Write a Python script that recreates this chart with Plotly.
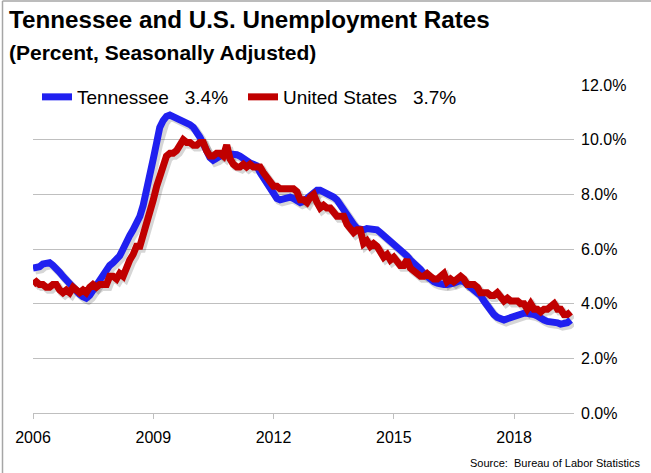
import pandas as pd
import plotly.graph_objects as go

# Monthly, Jan 2006 - Jun 2019 (percent, seasonally adjusted)
start_month = "2006-01-01"
tennessee = [
    5.3, 5.3, 5.35, 5.45, 5.5, 5.5, 5.4, 5.3, 5.15, 5.0, 4.85, 4.7,      # 2006
    4.6, 4.5, 4.35, 4.25, 4.2, 4.3, 4.5, 4.7, 4.9, 5.1, 5.3, 5.4,        # 2007
    5.5, 5.6, 5.75, 6.0, 6.3, 6.5, 6.7, 6.9, 7.2, 7.6, 8.1, 8.7,         # 2008
    9.3, 9.9, 10.45, 10.7, 10.85, 10.9, 10.85, 10.8, 10.75, 10.7, 10.65, 10.55,  # 2009
    10.45, 10.3, 10.1, 9.85, 9.6, 9.35, 9.25, 9.3, 9.4, 9.5, 9.5, 9.5,   # 2010
    9.5, 9.45, 9.4, 9.3, 9.2, 9.15, 9.1, 9.05, 8.8, 8.6, 8.4, 8.2,       # 2011
    8.0, 7.85, 7.8, 7.85, 7.9, 7.9, 7.85, 7.75, 7.7, 7.75, 7.85, 7.95,   # 2012
    8.05, 8.15, 8.15, 8.1, 8.05, 8.0, 7.9, 7.8, 7.6, 7.4, 7.2, 7.05,     # 2013
    6.9, 6.75, 6.7, 6.7, 6.75, 6.75, 6.7, 6.7, 6.6, 6.5, 6.4, 6.3,       # 2014
    6.2, 6.1, 6.0, 5.9, 5.75, 5.6, 5.5, 5.4, 5.25, 5.1, 5.0, 4.85,       # 2015
    4.8, 4.75, 4.7, 4.7, 4.7, 4.7, 4.75, 4.8, 4.85, 4.8, 4.7, 4.6,       # 2016
    4.5, 4.45, 4.3, 4.1, 3.9, 3.7, 3.6, 3.5, 3.45, 3.4, 3.45, 3.5,       # 2017
    3.55, 3.6, 3.65, 3.65, 3.65, 3.65, 3.6, 3.55, 3.45, 3.4, 3.35, 3.35, # 2018
    3.3, 3.3, 3.25, 3.25, 3.3, 3.4,                                      # 2019
]
united_states = [
    4.7, 4.8, 4.7, 4.7, 4.6, 4.6, 4.7, 4.7, 4.5, 4.4, 4.5, 4.4,
    4.6, 4.5, 4.4, 4.5, 4.4, 4.6, 4.7, 4.6, 4.7, 4.7, 4.7, 5.0,
    5.0, 4.9, 5.1, 5.0, 5.4, 5.6, 5.8, 6.1, 6.1, 6.5, 6.8, 7.3,
    7.8, 8.3, 8.7, 9.0, 9.4, 9.5, 9.5, 9.6, 9.8, 10.0, 9.9, 9.9,
    9.8, 9.8, 9.9, 9.9, 9.6, 9.4, 9.4, 9.5, 9.5, 9.4, 9.8, 9.3,
    9.1, 9.0, 9.0, 9.1, 9.0, 9.1, 9.0, 9.0, 9.0, 8.8, 8.6, 8.5,
    8.3, 8.3, 8.2, 8.2, 8.2, 8.2, 8.2, 8.1, 7.8, 7.8, 7.7, 7.9,
    8.0, 7.7, 7.5, 7.6, 7.5, 7.5, 7.3, 7.2, 7.2, 7.2, 6.9, 6.7,
    6.6, 6.7, 6.7, 6.2, 6.3, 6.1, 6.2, 6.1, 5.9, 5.7, 5.8, 5.6,
    5.7, 5.5, 5.4, 5.4, 5.6, 5.3, 5.2, 5.1, 5.0, 5.0, 5.1, 5.0,
    4.9, 4.9, 5.0, 5.1, 4.8, 4.9, 4.8, 4.9, 5.0, 4.9, 4.7, 4.7,
    4.7, 4.6, 4.4, 4.4, 4.4, 4.3, 4.3, 4.4, 4.2, 4.1, 4.2, 4.1,
    4.1, 4.1, 4.0, 4.0, 3.8, 4.0, 3.8, 3.8, 3.7, 3.8, 3.8, 3.9,
    4.0, 3.8, 3.8, 3.6, 3.6, 3.7,
]
series_names = ["Tennessee", "United States"]
latest_labels = ["3.4%", "3.7%"]
series_colors = ["#2020f0", "#c00000"]
title_text = "Tennessee and U.S. Unemployment Rates"
subtitle_text = "(Percent, Seasonally Adjusted)"
source_text = "Source:  Bureau of Labor Statistics"

months = pd.date_range(start_month, periods=len(tennessee), freq="MS")
FONT = "Liberation Sans, Arial, sans-serif"
NB = "\u00a0"

W, H = 651, 473
ML, MR, MT, MB = 33, 77, 85, 60
PW, PH = W - ML - MR, H - MT - MB


def px_x(x):
    return (x - ML) / PW


def px_y(y):
    return (H - MB - y) / PH


fig = go.Figure()
shadow_dx = pd.Timedelta(days=20)
for vals in (tennessee, united_states):
    fig.add_trace(go.Scatter(
        x=months + shadow_dx, y=[v - 0.09 for v in vals], mode="lines",
        line=dict(color="rgba(0,0,0,0.16)", width=8),
        showlegend=False, hoverinfo="skip"))
legend_ids = ["legend", "legend2"]
for name, lab, vals, col, lg in zip(series_names, latest_labels,
                                    (tennessee, united_states), series_colors, legend_ids):
    fig.add_trace(go.Scatter(
        x=months, y=vals, mode="lines",
        name=name + NB * 3 + lab, legend=lg,
        line=dict(color=col, width=7)))

legend_style = dict(orientation="h", xanchor="left", yanchor="middle",
                    bgcolor="rgba(0,0,0,0)", font=dict(size=19, family=FONT),
                    itemwidth=30)

fig.update_layout(
    width=W, height=H,
    margin=dict(l=ML, r=MR, t=MT, b=MB),
    paper_bgcolor="white", plot_bgcolor="white",
    font=dict(family=FONT, color="#000000"),
    showlegend=True,
    legend=dict(x=px_x(37), y=px_y(97), **legend_style),
    legend2=dict(x=px_x(243), y=px_y(97), **legend_style),
    xaxis=dict(type="date", range=["2006-01-01", "2019-07-01"],
               tick0="2006-01-01", dtick="M36", tickformat="%Y",
               showgrid=False, zeroline=False,
               showline=False, ticks="outside", ticklen=5, tickcolor="#bfbfbf",
               ticklabelstandoff=5,
               tickfont=dict(size=16, family=FONT, color="#000000")),
    yaxis=dict(range=[0, 12], dtick=2, side="right", tickformat=".1f", ticksuffix="%",
               showgrid=True, gridcolor="#bfbfbf", gridwidth=1,
               zeroline=True, zerolinecolor="#bfbfbf", zerolinewidth=1,
               showline=False, ticks="", ticklabelstandoff=6,
               tickfont=dict(size=16, family=FONT, color="#000000")),
    annotations=[
        dict(text="<b>" + title_text + "</b>", xref="paper", yref="paper",
             x=px_x(7), y=px_y(20), xanchor="left", yanchor="middle",
             showarrow=False, font=dict(size=24.2, family=FONT, color="#000000")),
        dict(text="<b>" + subtitle_text + "</b>", xref="paper", yref="paper",
             x=px_x(7), y=px_y(52), xanchor="left", yanchor="middle",
             showarrow=False, font=dict(size=21, family=FONT, color="#000000")),
        dict(text=source_text, xref="paper", yref="paper",
             x=px_x(642), y=px_y(463), xanchor="right", yanchor="middle",
             showarrow=False, font=dict(size=11, family=FONT, color="#000000")),
    ],
    shapes=[
        dict(type="line", xref="paper", yref="paper",
             x0=px_x(2.5), x1=px_x(2.5), y0=px_y(H), y1=px_y(1),
             line=dict(color="#a6a6a6", width=1.5)),
        dict(type="line", xref="paper", yref="paper",
             x0=px_x(2.5), x1=px_x(W), y0=px_y(1), y1=px_y(1),
             line=dict(color="#a6a6a6", width=1.5)),
    ],
)

fig.write_html("out.html", config={"displayModeBar": False},
               post_script="document.body.style.margin='0';")
